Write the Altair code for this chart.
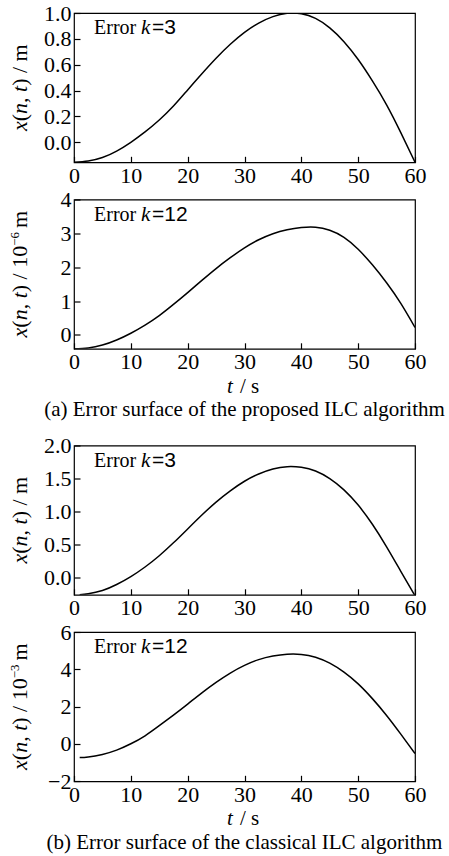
import altair as alt
import pandas as pd

# ---- data -------------------------------------------------------------
t_a = [0, 2.5, 5, 7.5, 10, 12.5, 15, 17.5, 20, 22.5, 25, 27.5, 30,
       32.5, 35, 37.5, 40, 42.5, 45, 47.5, 50, 52.5, 55, 57.5, 60]
t_b = [1, 2.5, 5, 7.5, 10, 12.5, 15, 17.5, 20, 22.5, 25, 27.5, 30,
       32.5, 35, 37.5, 40, 42.5, 45, 47.5, 50, 52.5, 55, 57.5, 60]

# proposed ILC, k = 3 (m)
prop_k3 = [-0.155, -0.145, -0.118, -0.068, 0.0, 0.08, 0.172, 0.28, 0.405,
           0.53, 0.65, 0.758, 0.85, 0.922, 0.972, 0.998, 0.995, 0.958, 0.885,
           0.778, 0.64, 0.475, 0.29, 0.075, -0.155]
# proposed ILC, k = 12 (1e-6 m)
prop_k12 = [-0.41, -0.385, -0.30, -0.15, 0.05, 0.29, 0.57, 0.90, 1.25, 1.61,
            1.96, 2.28, 2.57, 2.81, 2.99, 3.105, 3.17, 3.18, 3.09, 2.88,
            2.53, 2.07, 1.54, 0.93, 0.22]
# classical ILC, k = 3 (m)
clas_k3 = [-0.255, -0.24, -0.19, -0.10, 0.02, 0.165, 0.335, 0.53, 0.74, 0.95,
           1.145, 1.315, 1.46, 1.57, 1.645, 1.68, 1.67, 1.615, 1.50, 1.33,
           1.10, 0.81, 0.47, 0.10, -0.27]
# classical ILC, k = 12 (1e-3 m)
clas_k12 = [-0.73, -0.70, -0.56, -0.33, 0.01, 0.44, 0.98, 1.55, 2.14, 2.74,
            3.30, 3.80, 4.21, 4.52, 4.71, 4.81, 4.80, 4.65, 4.33, 3.85, 3.22,
            2.43, 1.53, 0.53, -0.51]

x_ticks = [0, 10, 20, 30, 40, 50, 60]
y_ticks_p3 = [0.0, 0.2, 0.4, 0.6, 0.8, 1.0]
y_ticks_p12 = [0, 1, 2, 3, 4]
y_ticks_c3 = [0.0, 0.5, 1.0, 1.5, 2.0]
y_ticks_c12 = [-2, 0, 2, 4, 6]

caption_a = "(a) Error surface of the proposed ILC algorithm"
caption_b = "(b) Error surface of the classical ILC algorithm"

# ---- style ------------------------------------------------------------
SERIF = "Liberation Serif"
SANS = "Liberation Sans"
NB = "\u00a0"    # non-breaking space, kept by SVG text
W, H = 341, 149.3
FS = 22          # tick label / axis title size
ANN = 20         # in-panel annotation size

# Times advance widths (em) used to lay out mixed-style titles
ADV = {"r": {"(": .333, ")": .333, ",": .25, NB: .25, "/": .278, "m": .778,
             "0": .5, "1": .5, "6": .5, "3": .5, "−": .564, "s": .389},
       "i": {"x": .444, "n": .5, "t": .278}}

ONE = alt.Data(values=[{}])


def piece(text, x, y, size, style="normal", font=SERIF, angle=0,
          align="left"):
    return alt.Chart(ONE).mark_text(
        text=text, font=font, fontSize=size, fontStyle=style, color="black",
        align=align, baseline="alphabetic", angle=angle,
    ).encode(x=alt.value(x), y=alt.value(y))


def y_title(parts):
    """parts: list of (text, kind) with kind 'r', 'i', 'sup' or 'gap'."""
    def width(text, kind):
        if kind == "gap":
            return float(text)
        size = 13 if kind == "sup" else FS
        table = ADV["i"] if kind == "i" else ADV["r"]
        return sum(table.get(c, .5) for c in text) * size

    total = sum(width(t, k) for t, k in parts)
    y = H / 2 + total / 2
    base_x = -47
    layers = []
    for text, kind in parts:
        if kind == "sup":
            layers.append(piece(text, base_x - 8, y, 13, angle=270))
        elif kind != "gap":
            layers.append(piece(text, base_x, y, FS,
                                style="italic" if kind == "i" else "normal",
                                angle=270))
        y -= width(text, kind)
    return layers


def axis(values, fmt, pad):
    return alt.Axis(values=values, format=fmt, title=None, offset=-6,
                    tickSize=6, domain=False, grid=False, labelPadding=pad,
                    labelFlush=False, labelOverlap=False, labelFont=SERIF,
                    labelFontSize=FS, labelColor="black", tickColor="black",
                    tickWidth=1.2)


def panel(t, v, ydom, yticks, yfmt, kval, unit_parts, x_title):
    df = pd.DataFrame({"t": t, "v": v})
    line = alt.Chart(df).mark_line(
        color="black", strokeWidth=1.5, interpolate="natural", clip=True
    ).encode(
        x=alt.X("t:Q", scale=alt.Scale(domain=[0, 60], nice=False),
                axis=axis(x_ticks, "d", 3)),
        y=alt.Y("v:Q", scale=alt.Scale(domain=ydom, nice=False, zero=False),
                axis=axis(yticks, yfmt, 3)),
    )
    layers = [line,
              piece("Error", 20, 21.4, ANN),
              piece("k", 67, 21.4, ANN + 1, style="italic"),
              piece("=" + kval, 78, 21.4, ANN + 1, font=SANS)]
    layers += y_title([("x", "i"), ("(", "r"), ("n", "i"), ("," + NB, "r"),
                       ("t", "i")] + unit_parts)
    if x_title:
        layers += [piece("t", 153, H + 44, FS - 1, style="italic"),
                   piece("/" + NB + "s", 166, H + 44, FS - 1)]
    return alt.layer(*layers).properties(width=W, height=H)


def caption(text):
    return alt.Chart(ONE).mark_text(
        text=text, font=SERIF, fontSize=21, color="black",
        align="center", baseline="alphabetic",
    ).encode(x=alt.value(W / 2), y=alt.value(30)).properties(
        width=W, height=22.5,
        view=alt.ViewBackground(stroke="transparent"))


p1 = panel(t_a, prop_k3, [-0.155, 1.0], y_ticks_p3, ".1f", "3",
           [(")" + NB + "/" + NB + "m", "r")], False)
p2 = panel(t_a, prop_k12, [-0.41, 4.0], y_ticks_p12, "d", "12",
           [(")" + NB + "/" + NB + "10", "r"), ("−6", "sup"), ("4", "gap"),
            ("m", "r")], True)
p3 = panel(t_b, clas_k3, [-0.255, 2.0], y_ticks_c3, ".1f", "3",
           [(")" + NB + "/" + NB + "m", "r")], False)
p4 = panel(t_b, clas_k12, [-2.0, 6.0], y_ticks_c12, "d", "12",
           [(")" + NB + "/" + NB + "10", "r"), ("−3", "sup"), ("4", "gap"),
            ("m", "r")], True)

chart = alt.vconcat(
    p1, p2, caption(caption_a), p3, p4, caption(caption_b),
    spacing=36.5, bounds="flush",
).properties(
    padding={"left": 8, "top": 1, "right": 0, "bottom": 0},
    background="white",
).configure_view(
    stroke="black", strokeWidth=1.2,
)

chart.save("out.html", embed_options={"renderer": "svg", "actions": False})
